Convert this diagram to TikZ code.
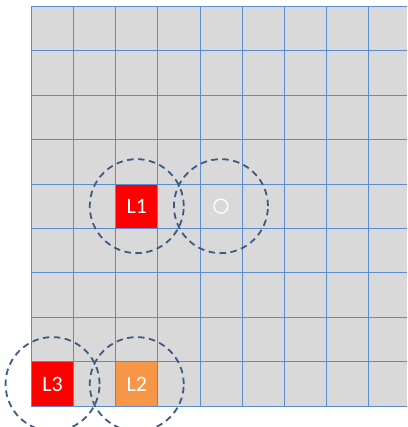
\documentclass[tikz,border=0pt]{standalone}
\usepackage{fontspec}
\setmainfont{Carlito}
\definecolor{gridfill}{HTML}{D9D9D9}
\definecolor{gridline}{HTML}{5B8BD0}
\definecolor{ringcol}{HTML}{3E5A84}
\definecolor{lred}{HTML}{FF0000}
\definecolor{lorange}{HTML}{F79646}
\begin{document}
\begin{tikzpicture}[x=1pt,y=-1pt,
  cellbox/.style={draw=gridline, line width=0.8pt, minimum width=42.1pt, minimum height=44.48pt, inner sep=0pt, text=white, font=\fontsize{22}{24}\selectfont},
  ring/.style={circle, draw=ringcol, line width=1.8pt, dash pattern=on 6.5pt off 4.5pt, minimum size=94pt, inner sep=0pt},
  dotmark/.style={circle, draw=white, line width=1.3pt, minimum size=14pt, inner sep=0pt}]
\useasboundingbox (0,0) rectangle (407,427);
\fill[gridfill] (31.5,6) rectangle (407,406.3);
\foreach \k in {0,...,8} \draw[gridline, line width=0.8pt] ({31.5+42.1*\k},6) -- ({31.5+42.1*\k},406.3);
\foreach \k in {0,...,9} \draw[gridline, line width=0.8pt] (31.5,{6+44.48*\k}) -- (407,{6+44.48*\k});
\node[cellbox, fill=lred] (L1) at (136.75,206.16) {L1};
\node[cellbox, fill=lred] (L3) at (52.55,384.1) {L3};
\node[cellbox, fill=lorange] (L2) at (136.75,384.1) {L2};
\node[dotmark] (P) at (220.95,206.16) {};
\node[ring] (R1) at (L1.center) {};
\node[ring] (R0) at (P.center) {};
\node[ring] (R3) at (L3.center) {};
\node[ring] (R2) at (L2.center) {};
\end{tikzpicture}
\end{document}
